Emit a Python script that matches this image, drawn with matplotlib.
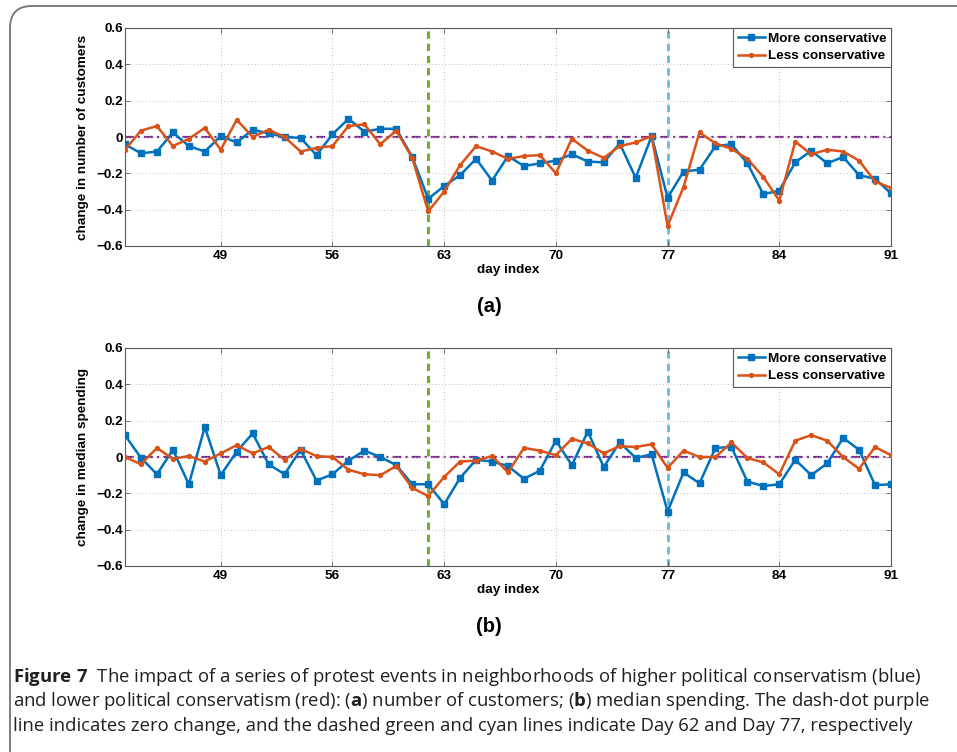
import numpy as np
import matplotlib.pyplot as plt
from matplotlib.patches import FancyBboxPatch
from matplotlib.transforms import IdentityTransform

plt.rcParams['font.family'] = ['Liberation Sans', 'DejaVu Sans']
plt.rcParams['mathtext.fontset'] = 'custom'
plt.rcParams['mathtext.rm'] = 'Open Sans'
plt.rcParams['mathtext.bf'] = 'Open Sans:bold'

# ===============================
# Data
# ===============================
days = list(range(43, 92))
xticks = [49, 56, 63, 70, 77, 84, 91]
event_days = [62, 77]

cust_more = [-0.04, -0.09, -0.08, 0.025, -0.05, -0.08, 0.005, -0.03, 0.04, 0.02,
             0.0, -0.005, -0.10, 0.015, 0.10, 0.03, 0.045, 0.045,
             -0.11, -0.34, -0.27, -0.21, -0.12, -0.24, -0.105, -0.16, -0.145, -0.13,
             -0.095, -0.135, -0.14, -0.035, -0.225, 0.005,
             -0.335, -0.19, -0.18, -0.05, -0.04, -0.145, -0.315, -0.295, -0.14, -0.075,
             -0.145, -0.11, -0.21, -0.23, -0.31]
cust_less = [-0.07, 0.035, 0.06, -0.05, -0.01, 0.05, -0.07, 0.095, 0.0, 0.04,
             0.0, -0.08, -0.06, -0.05, 0.06, 0.07, -0.04, 0.035,
             -0.115, -0.41, -0.30, -0.155, -0.05, -0.08, -0.12, -0.105, -0.10, -0.20,
             -0.01, -0.075, -0.115, -0.05, -0.03, 0.005,
             -0.49, -0.275, 0.025, -0.035, -0.065, -0.12, -0.22, -0.35, -0.025, -0.095,
             -0.07, -0.08, -0.13, -0.245, -0.28]
spend_more = [0.12, -0.005, -0.095, 0.04, -0.15, 0.165, -0.10, 0.03, 0.13, -0.04,
              -0.095, 0.04, -0.13, -0.095, -0.02, 0.035, 0.0, -0.045,
              -0.15, -0.15, -0.26, -0.115, -0.015, -0.025, -0.05, -0.12, -0.075, 0.09,
              -0.045, 0.14, -0.055, 0.08, -0.005, 0.015,
              -0.30, -0.085, -0.145, 0.05, 0.055, -0.135, -0.16, -0.15, -0.015, -0.10,
              -0.035, 0.105, 0.04, -0.155, -0.15]
spend_less = [0.0, -0.04, 0.05, -0.01, 0.005, -0.025, 0.02, 0.065, 0.02, 0.055,
              -0.015, 0.045, 0.005, 0.0, -0.07, -0.095, -0.10, -0.05,
              -0.17, -0.215, -0.11, -0.025, -0.02, 0.005, -0.085, 0.05, 0.035, 0.01,
              0.10, 0.075, 0.02, 0.06, 0.055, 0.07,
              -0.06, 0.035, 0.0, 0.0, 0.08, -0.005, -0.03, -0.095, 0.09, 0.12,
              0.09, 0.0, -0.065, 0.055, 0.01]

W, H = 957, 752
fig = plt.figure(figsize=(W / 100, H / 100), dpi=100)


def fx(px):
    return px / W


def fy(py):
    return 1 - py / H


BLUE = '#0072BD'
ORANGE = '#D95319'
PURPLE = '#7E2F8E'
GREEN = '#77AC30'
CYAN = '#4DBEEE'

panels = [
    (28, 246, cust_more, cust_less, 'change in number of customers', '(a)', 306),
    (348, 566, spend_more, spend_less, 'change in median spending', '(b)', 627),
]

for top, bottom, more, less, ylab, tag, tag_y in panels:
    ax = fig.add_axes([fx(125), fy(bottom), fx(891) - fx(125), fy(top) - fy(bottom)])

    ax.axhline(0, color=PURPLE, lw=1.6, dashes=(4, 1.8, 1, 1.8), zorder=1)
    ax.axvline(event_days[0], color=GREEN, lw=2.2, dashes=(2.4, 1.6), zorder=1)
    ax.axvline(event_days[1], color=CYAN, lw=2.0, dashes=(2.6, 1.8), zorder=1)

    ax.plot(days, more, color=BLUE, lw=1.8, marker='s', ms=4.8, label='More conservative', zorder=3)
    ax.plot(days, less, color=ORANGE, lw=1.8, marker='o', ms=2.8, label='Less conservative', zorder=3)

    ax.set_xlim(43, 91)
    ax.set_ylim(-0.6, 0.6)
    ax.set_xticks(xticks)
    ax.set_yticks([-0.6, -0.4, -0.2, 0, 0.2, 0.4, 0.6])
    ax.set_yticklabels(['\u22120.6', '\u22120.4', '\u22120.2', '0', '0.2', '0.4', '0.6'])
    ax.tick_params(direction='in', top=True, right=True, length=3.5, width=0.6,
                   color='0.35', labelsize=9.7)
    ax.tick_params(axis='y', pad=1.5)
    ax.tick_params(axis='x', pad=3)
    for lbl in ax.get_xticklabels() + ax.get_yticklabels():
        lbl.set_fontweight('bold')
    ax.grid(True, ls=(0, (1, 2.5)), color='0.75', lw=0.7)
    for s in ax.spines.values():
        s.set_color('0.35')
        s.set_linewidth(0.8)

    ax.set_xlabel('day index', fontsize=9.7, fontweight='bold', labelpad=1)
    ax.set_ylabel(ylab, fontsize=9.7, fontweight='bold', labelpad=5)

    leg = ax.legend(loc='upper right', borderaxespad=0, framealpha=1,
                    fancybox=False, labelspacing=0.35, borderpad=0.35,
                    handlelength=2.0, handletextpad=0.2, prop={'weight': 'bold', 'size': 9.7})
    leg.get_frame().set_edgecolor('0.35')
    leg.get_frame().set_linewidth(0.8)

    fig.text(fx(489), fy(tag_y), tag, fontsize=14.5, fontweight='bold', ha='center', va='center')

# caption
cap_lines = [
    r'$\mathbf{Figure\ 7}$  The impact of a series of protest events in neighborhoods of higher political conservatism (blue)',
    r'and lower political conservatism (red): ($\mathbf{a}$) number of customers; ($\mathbf{b}$) median spending. The dash-dot purple',
    r'line indicates zero change, and the dashed green and cyan lines indicate Day 62 and Day 77, respectively',
]
for i, line in enumerate(cap_lines):
    fig.text(fx(13), fy(677 + i * 24.5), line, fontsize=13.3, family='Open Sans',
             color='#231f20', ha='left', va='center')

# rounded frame around the figure
frame = FancyBboxPatch((10, -40), W + 40, H - 6 + 40, boxstyle='round,pad=0,rounding_size=22',
                       transform=IdentityTransform(), fill=False, ec='0.45', lw=1.3)
fig.patches.append(frame)

plt.savefig('out.png', dpi=100)
